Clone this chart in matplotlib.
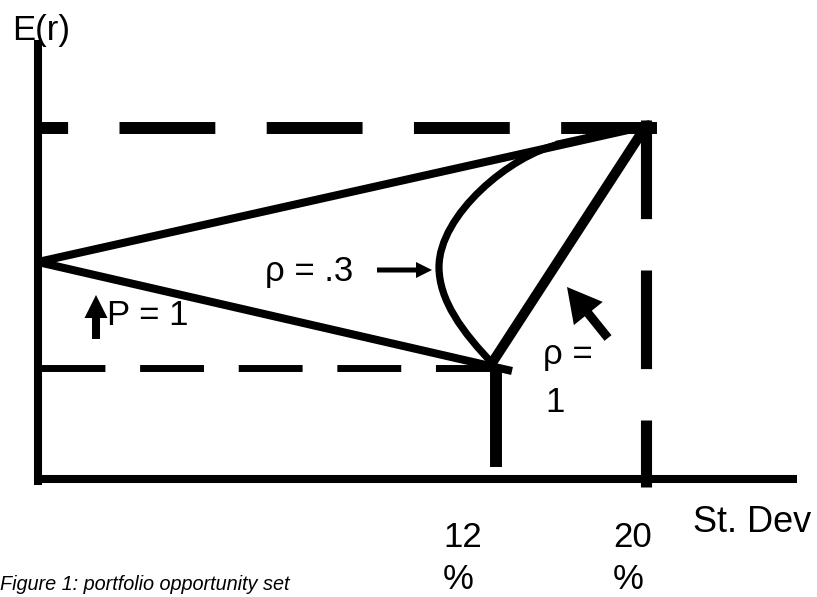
import matplotlib
matplotlib.use("Agg")
import matplotlib.pyplot as plt
from matplotlib.path import Path
from matplotlib.patches import PathPatch

plt.rcParams['font.family'] = ['Liberation Sans', 'DejaVu Sans']
plt.rcParams['lines.scale_dashes'] = False

# diagram points (drawing units, y grows downward like the sketch)
origin = (38, 479)
axis_end_x = 797
axis_top_y = 40
left_pt = (38, 262)      # lowest-risk asset on the E(r) axis
mid_pt = (496, 367)      # 12% st. dev. asset
top_pt = (646, 126)      # 20% st. dev. asset
low_line_end = (512, 371)

# rho = .3 curve, cubic bezier control points
curve_pts = [(494, 365), (462, 332), (439, 300), (439, 267),
             (439, 215), (510, 155), (560, 144)]

tick_nums = ['12', '20']
tick_x = [443, 613]

fig = plt.figure(figsize=(8.17, 5.97), dpi=100)
ax = fig.add_axes([0, 0, 1, 1])
ax.set_xlim(0, 817)
ax.set_ylim(597, 0)
ax.axis('off')

k = 'black'
# axes
ax.plot([origin[0], origin[0]], [axis_top_y, origin[1] + 6], color=k, lw=5.8, solid_capstyle='butt')
ax.plot([origin[0] - 3, axis_end_x], [origin[1], origin[1]], color=k, lw=5.8, solid_capstyle='butt')

# dashed guide lines
ax.plot([657, 41], [128, 128], color=k, lw=8.6, ls=(0, (69, 37)), dash_capstyle='butt')
ax.plot([41, 499], [368, 368], color=k, lw=5.0, ls=(0, (46, 25)), dash_capstyle='butt')
ax.plot([top_pt[0], top_pt[0]], [120, 487], color=k, lw=8.0, ls=(0, (71, 37)), dash_capstyle='butt')
ax.plot([mid_pt[0], mid_pt[0]], [mid_pt[1], 467], color=k, lw=8.6, solid_capstyle='butt')

# opportunity lines
ax.plot([left_pt[0], top_pt[0]], [left_pt[1], top_pt[1]], color=k, lw=5.8, solid_capstyle='butt')
ax.plot([left_pt[0], low_line_end[0]], [left_pt[1], low_line_end[1]], color=k, lw=5.8, solid_capstyle='butt')
ax.plot([mid_pt[0] - 4, top_pt[0]], [mid_pt[1] - 4, top_pt[1]], color=k, lw=7.2, solid_capstyle='butt')

codes = [Path.MOVETO] + [Path.CURVE4] * 6
ax.add_patch(PathPatch(Path(curve_pts, codes), fill=False, lw=5.2, edgecolor=k))
ax.plot([curve_pts[-1][0], top_pt[0]], [curve_pts[-1][1], top_pt[1] - 1], color=k, lw=5.8)

# arrows
ax.arrow(377, 270, 55, 0, width=5, head_width=16, head_length=16,
         length_includes_head=True, color=k, lw=0)
ax.arrow(96, 339, 0, -44, width=8, head_width=23, head_length=23,
         length_includes_head=True, color=k, lw=0)
ax.arrow(608, 338, -41, -51, width=9, head_width=37, head_length=34,
         length_includes_head=True, color=k, lw=0)

# text
fs = 25
ax.text(12, 40, 'E(r)', fontsize=fs, va='baseline')
ax.text(265, 281, 'ρ = .3', fontsize=fs, va='baseline')
ax.text(107, 325, 'P = 1', fontsize=fs, va='baseline')
ax.text(543, 364, 'ρ =', fontsize=fs, va='baseline')
ax.text(545, 412, '1', fontsize=fs, va='baseline')
for lab, x in zip(tick_nums, tick_x):
    ax.text(x, 547, lab, fontsize=fs, va='baseline')
    ax.text(x, 589, '%', fontsize=fs, va='baseline')
ax.text(693, 532, 'St. Dev', fontsize=26, va='baseline')
ax.text(0, 590, 'Figure 1: portfolio opportunity set', fontsize=14.3,
        style='italic', va='baseline')

fig.savefig('out.png', dpi=100)
